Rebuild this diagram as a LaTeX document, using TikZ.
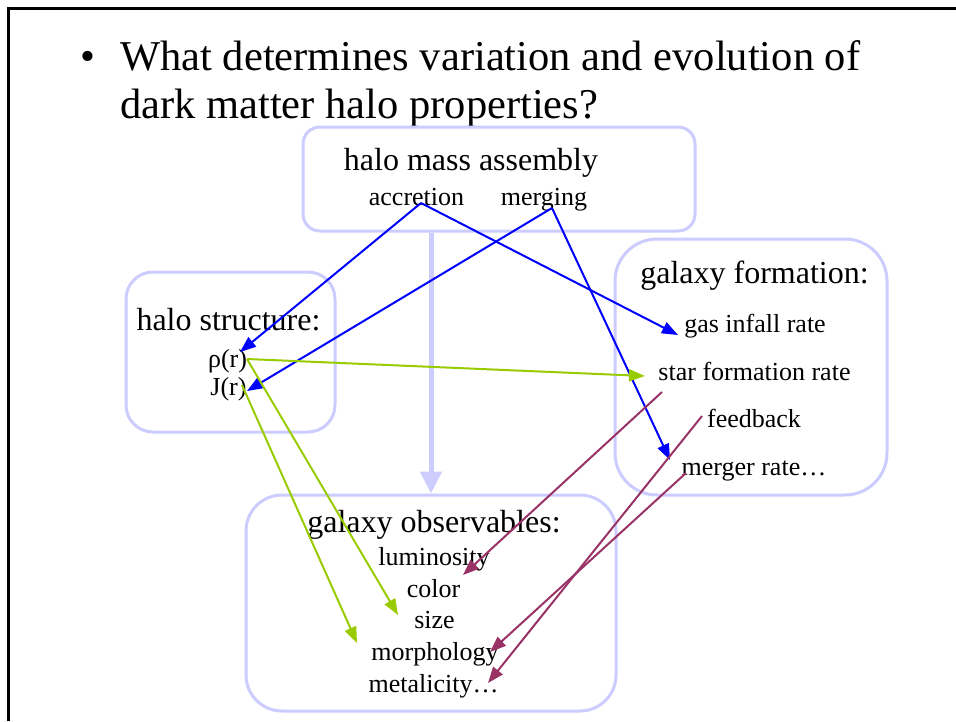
\documentclass[tikz,border=0pt]{standalone}
\usepackage{fontspec}
\setmainfont{Liberation Serif}
\usetikzlibrary{arrows.meta}
\definecolor{lav}{RGB}{204,204,255}
\definecolor{bl}{RGB}{0,0,255}
\definecolor{gr}{RGB}{153,204,0}
\definecolor{pu}{RGB}{153,51,102}
\begin{document}
\begin{tikzpicture}[x=1pt,y=-1pt,
  box/.style={draw=lav, line width=3pt, fill=none},
  hd/.style={anchor=base, inner sep=0pt, font=\fontsize{32}{36}\selectfont},
  it/.style={anchor=base, inner sep=0pt, font=\fontsize{26}{30}\selectfont},
  tt/.style={anchor=base west, inner sep=0pt, font=\fontsize{42.5}{48}\selectfont},
  blarrow/.style={draw=bl, line width=2pt, -{Triangle[length=16pt,width=12pt]}},
  grarrow/.style={draw=gr, line width=2pt, -{Triangle[length=16pt,width=12pt]}},
  puarrow/.style={draw=pu, line width=2pt, -{Triangle[length=16pt,width=12pt]}},
  bigarrow/.style={draw=lav, line width=5pt, -{Triangle[length=22pt,width=21pt]}}]
\useasboundingbox (0,0) rectangle (956,721);
\fill[white] (0,0) rectangle (956,721);
% slide frame
\draw[line width=3pt, line join=miter] (8,721) -- (8,8.5) -- (957,8.5);
% title
\node[tt] (bul) at (80,70) {•};
\node[tt] (t1) at (120,70) {What determines variation and evolution of};
\node[tt] (t2) at (120,118) {dark matter halo properties?};
% boxes
\node[box, rounded corners=17pt, minimum width=392pt, minimum height=104pt] (hma) at (499,179) {};
\node[box, rounded corners=27pt, minimum width=209pt, minimum height=160pt] (hs) at (230.5,352) {};
\node[box, rounded corners=42pt, minimum width=272pt, minimum height=256pt] (gf) at (751,367) {};
\node[box, rounded corners=36pt, minimum width=370pt, minimum height=216pt] (obs) at (431,603) {};
% texts
\node[hd] (hmat) at (471,170) {halo mass assembly};
\node[it] (acc) at (416.5,205) {accretion};
\node[it] (mrg) at (544,205) {merging};
\node[hd] (hst) at (228.5,330) {halo structure:};
\node[it] (rho) at (227.5,367) {ρ(r)};
\node[it] (jr) at (228.5,395) {J(r)};
\node[hd] (gft) at (754.5,283) {galaxy formation:};
\node[it] (gir) at (755,332) {gas infall rate};
\node[it] (sfr) at (754.5,380) {star formation rate};
\node[it] (fb) at (754,427) {feedback};
\node[it] (mr) at (754,475) {merger rate…};
\node[hd] (obst) at (434,532) {galaxy observables:};
\node[it] (lum) at (434,565) {luminosity};
\node[it] (col) at (433.5,597) {color};
\node[it] (siz) at (434.5,628) {size};
\node[it] (mor) at (435,660) {morphology};
\node[it] (met) at (433.5,692) {metalicity…};
% connector end points
\coordinate (accS) at (421,203);
\coordinate (mrgS) at (552,208);
\coordinate (rhoT) at (240,352);
\coordinate (infT) at (678,335);
\coordinate (jT) at (247,391);
\coordinate (mrT) at (670,460);
\coordinate (rhoS) at (247,359);
\coordinate (sfrT) at (645,376);
\coordinate (sizeT) at (398,615);
\coordinate (jS) at (242,385);
\coordinate (morT) at (357,643);
\coordinate (sfrS) at (662,392);
\coordinate (lumT) at (463,575);
\coordinate (fbS) at (702,416);
\coordinate (metT) at (488,683);
\coordinate (mrS) at (686,473);
\coordinate (morT2) at (490,652);
% big arrow
\draw[bigarrow] (hma.south -| obs.north) -- (obs.north);
% blue
\draw[blarrow] (accS) -- (rhoT);
\draw[blarrow] (accS) -- (infT);
\draw[blarrow] (mrgS) -- (jT);
\draw[blarrow] (mrgS) -- (mrT);
% green
\draw[grarrow] (rhoS) -- (sfrT);
\draw[grarrow] (rhoS) -- (sizeT);
\draw[grarrow] (jS) -- (morT);
% purple
\draw[puarrow] (sfrS) -- (lumT);
\draw[puarrow] (fbS) -- (metT);
\draw[puarrow] (mrS) -- (morT2);
\end{tikzpicture}
\end{document}
